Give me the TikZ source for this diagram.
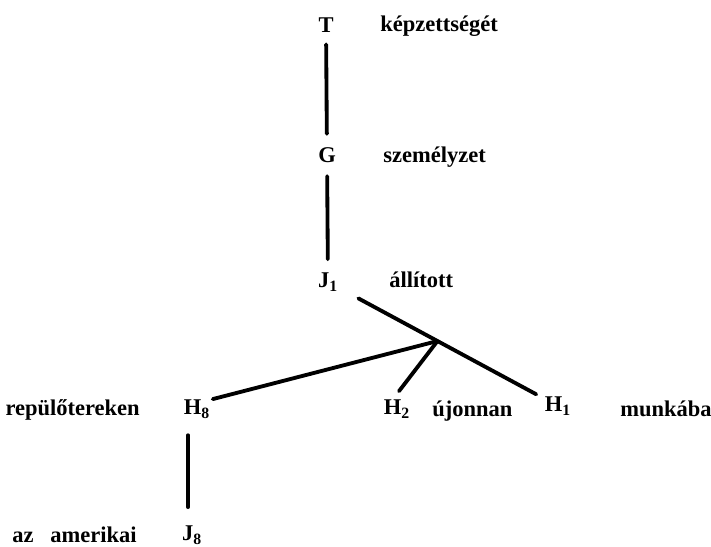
\documentclass[tikz,border=0pt]{standalone}
\usepackage{fontspec}
\setmainfont{Liberation Serif}
\usetikzlibrary{calc}
\begin{document}
\begin{tikzpicture}[x=0.6pt,y=-0.6pt]

	\tikzset{
	  sym/.style={
		font=\fontsize{13.5}{15}\selectfont\bfseries,
		inner sep=5pt,
	  },
	  word/.style={
		font=\fontsize{13.5}{15}\selectfont\bfseries,
		inner sep=0pt,
	  },
	  link/.style={
		line width=2.3pt,
		line cap=round,
	  },
	}
	\useasboundingbox (0,0) rectangle (711,546);

	\node[sym] (T) at (326,25) {T};
	\node[sym] (G) at (327,155) {G};
	\node[sym] (J1) at (328,282) {J\textsubscript{1}};
	\node[sym] (H8) at (197,409) {H\textsubscript{8}};
	\node[sym] (H2) at (397,409) {H\textsubscript{2}};
	\node[sym] (H1) at (558,406) {H\textsubscript{1}};
	\node[sym] (J8) at (192,535) {J\textsubscript{8}};

	\node[word,anchor=base west] (wT) at (380,31) {képzettségét};
	\node[word,anchor=base west] (wG) at (383,162) {személyzet};
	\node[word,anchor=base west] (wJ1) at (389,287) {állított};
	\node[word,anchor=base east] (wH8) at (140,415) {repülőtereken};
	\node[word,anchor=base west] (wH2) at (432,416) {újonnan};
	\node[word,anchor=base west] (wH1) at (620,416) {munkába};
	\node[word,anchor=base east] (wJ8) at (137,542) {az\enspace\ amerikai};

	\coordinate (jn) at ($(J1)!0.476!(H1)$);

	\draw[link,shorten <=2pt,shorten >=3pt] (T) -- (G);
	\draw[link,shorten <=3pt,shorten >=3pt] (G) -- (J1);
	\draw[link,shorten <=8pt] (J1) -- (H1);
	\draw[link] ([shift={(-6,8)}]H8.north east) -- (jn);
	\draw[link] ([shift={(2,0)}]H2.north) -- (jn);
	\draw[link,shorten <=6pt,shorten >=5pt] (J8.north -| 188,0) -- (188,0 |- H8.south);

\end{tikzpicture}
\end{document}
